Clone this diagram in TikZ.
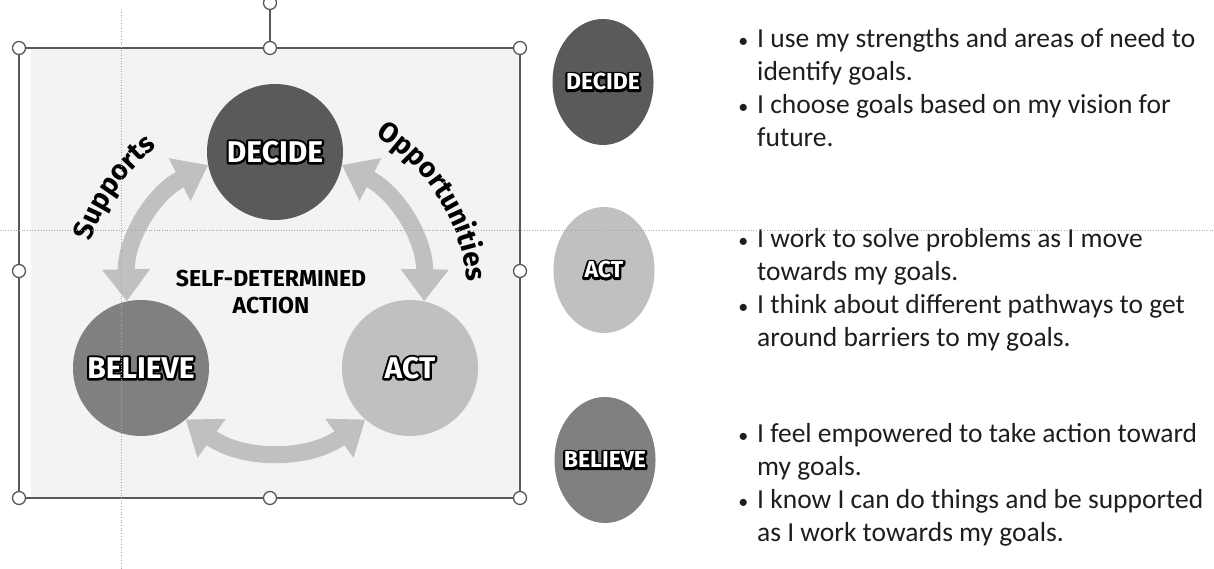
\documentclass[tikz,border=0pt]{standalone}
\usepackage{fontspec}
\setmainfont{Carlito}
\newfontfamily\labelfont{Fira Sans}
\usetikzlibrary{arrows.meta,shapes.geometric,decorations.text}
\definecolor{framegray}{HTML}{595959}
\definecolor{panelgray}{HTML}{F3F3F3}
\definecolor{darkgray}{HTML}{5A5A5A}
\definecolor{midgray}{HTML}{808080}
\definecolor{lightgray}{HTML}{C0C0C0}
\definecolor{textgray}{HTML}{1E1E1E}
\tikzset{
  bigcircle/.style={circle, minimum size=136pt, inner sep=0pt},
  sideoval/.style={ellipse, minimum width=101pt, minimum height=126pt, inner sep=0pt},
  handle/.style={circle, draw=framegray, fill=white, line width=1.3pt, minimum size=13pt, inner sep=0pt},
  cyclearrow/.style={line width=17pt, lightgray, {Triangle[width=46pt,length=32pt]}-{Triangle[width=46pt,length=32pt]}},
  guide/.style={dotted, black!35, line width=0.7pt},
  circlelabel/.style={font=\labelfont\bfseries\fontsize{30}{33}\selectfont, text=white, inner sep=0pt},
  sidelabel/.style={font=\labelfont\bfseries\fontsize{23}{26}\selectfont, text=white, inner sep=0pt},
  bullettext/.style={font=\fontsize{27.5}{33}\selectfont, text=textgray, anchor=base west, inner sep=0pt}
}
% white letters on a thick black rim
\newcommand{\outlined}[1]{\rlap{\special{pdf:literal direct 1 j 0 g 0 G 4.5 w 2 Tr}#1\special{pdf:literal direct 0 Tr 0.4 w 1 g 1 G}}#1}
\newcommand{\itembullet}{\llap{{\fontsize{20}{20}\selectfont\textbullet}\hspace{9pt}}}
\begin{document}
\begin{tikzpicture}[x=1pt,y=1pt]
\useasboundingbox (0,0) rectangle (1214,569);
% selected picture
\fill[panelgray] (31,71) rectangle (520,521);
\node[bigcircle, fill=darkgray] (decide) at (275,417) {};
\node[bigcircle, fill=midgray] (believe) at (141,201) {};
\node[bigcircle, fill=lightgray] (act) at (410,201) {};
\coordinate (hub) at (275,269);
\draw[cyclearrow] (decide.191) to[bend right=32] (believe.102);
\draw[cyclearrow] (decide.349) to[bend left=32] (act.78);
\draw[cyclearrow] (believe.-49) to[bend right=36] (act.229);
\node[circlelabel] (decidetxt) at (decide) {\outlined{DECIDE}};
\node[circlelabel] (believetxt) at (believe) {\outlined{BELIEVE}};
\node[circlelabel] (acttxt) at (act) {\outlined{ACT}};
\node[font=\labelfont\bfseries\fontsize{23}{27}\selectfont, align=center] (sda) at (271,277) {SELF-DETERMINED\\ACTION};
\path[decorate, decoration={text along path, text align=center,
  text={|\labelfont\bfseries\fontsize{28}{30}\selectfont|Supports}}]
  (hub) ++(175:193) arc[start angle=175, end angle=115, radius=193];
\path[decorate, decoration={text along path, text align=center,
  text={|\labelfont\bfseries\fontsize{28}{30}\selectfont|Opportunities}}]
  (hub) ++(64:193) arc[start angle=64, end angle=0, radius=193];
% selection frame
\draw[framegray, line width=1.6pt] (19,71) rectangle (520,521);
\node[handle] (rot) at (270,566) {};
\node[handle] (n) at (270,521) {};
\draw[framegray, line width=1.3pt] (rot) -- (n);
\node[handle] (nw) at (19,521) {};
\node[handle] (ne) at (520,521) {};
\node[handle] (w) at (19,298) {};
\node[handle] (e) at (520,298) {};
\node[handle] (sw) at (19,71) {};
\node[handle] (s) at (270,71) {};
\node[handle] (se) at (520,71) {};
% right side
\node[sideoval, fill=darkgray] (decide2) at (603,487) {};
\node[sideoval, fill=lightgray] (act2) at (604,299) {};
\node[sideoval, fill=midgray] (believe2) at (605,109) {};
\node[sidelabel] (decide2txt) at (decide2) {\outlined{DECIDE}};
\node[sidelabel] (act2txt) at (act2) {\outlined{ACT}};
\node[sidelabel] (believe2txt) at (believe2) {\outlined{BELIEVE}};
\node[bullettext] (d1) at (757,521) {\itembullet I use my strengths and areas of need to};
\node[bullettext] (d2) at (757,488) {identify goals.};
\node[bullettext] (d3) at (757,455) {\itembullet I choose goals based on my vision for};
\node[bullettext] (d4) at (757,422) {future.};
\node[bullettext] (a1) at (757,321) {\itembullet I work to solve problems as I move};
\node[bullettext] (a2) at (757,288) {towards my goals.};
\node[bullettext] (a3) at (757,255) {\itembullet I think about different pathways to get};
\node[bullettext] (a4) at (757,222) {around barriers to my goals.};
\node[bullettext] (b1) at (757,126) {\itembullet I feel empowered to take action toward};
\node[bullettext] (b2) at (757,93) {my goals.};
\node[bullettext] (b3) at (757,60) {\itembullet I know I can do things and be supported};
\node[bullettext] (b4) at (757,27) {as I work towards my goals.};
% guides
\draw[guide] (0,339) -- (1214,339);
\draw[guide] (121,0) -- (121,559);
\end{tikzpicture}
\end{document}
